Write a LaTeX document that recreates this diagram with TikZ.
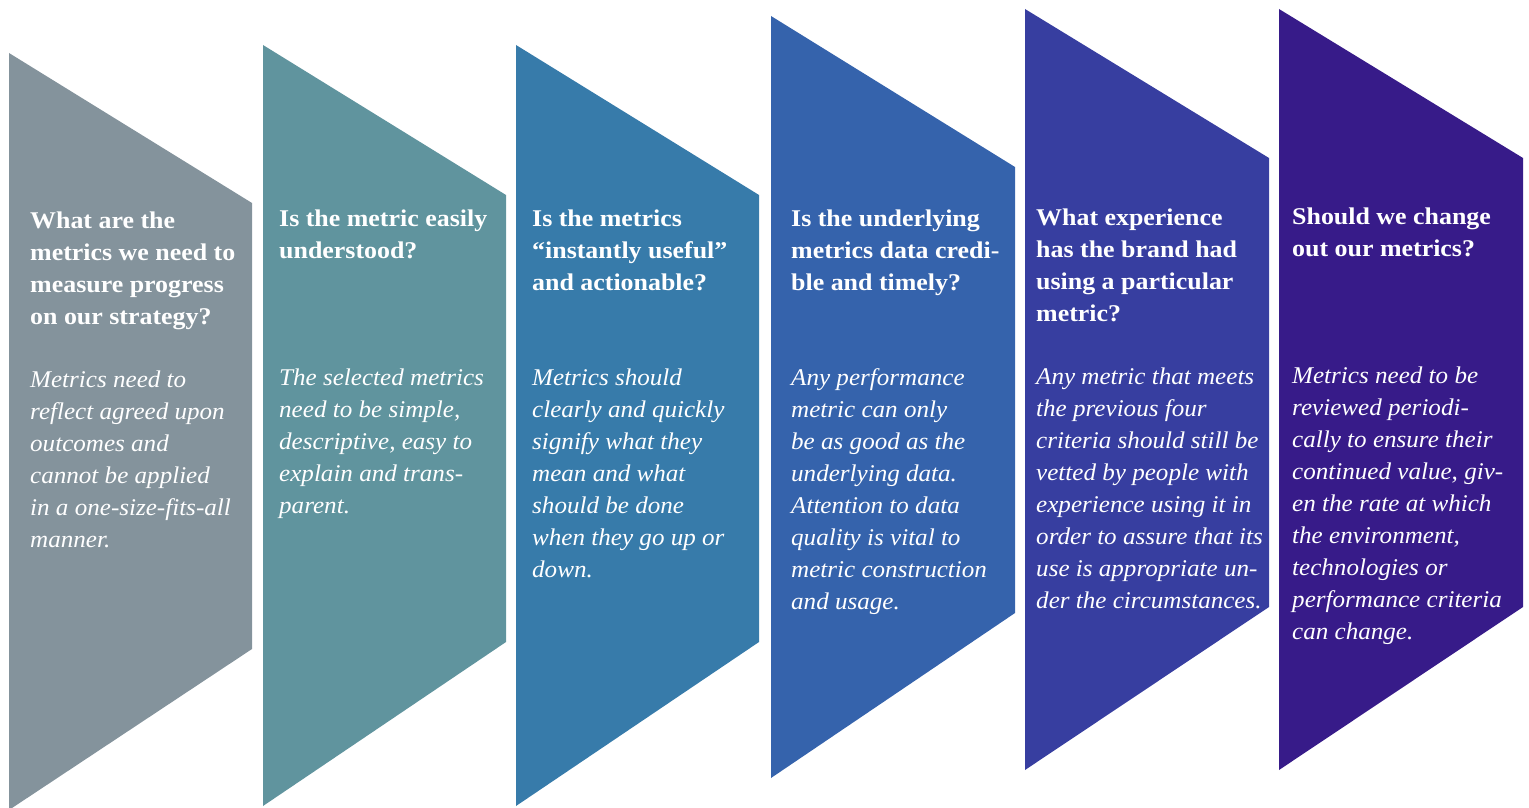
\documentclass[tikz,border=0pt]{standalone}
\usepackage{fontspec}
\setmainfont{Liberation Serif}[BoldFeatures={FakeStretch=1.08},ItalicFeatures={FakeStretch=1.045}]
\definecolor{cA}{HTML}{84939C}
\definecolor{cB}{HTML}{60949E}
\definecolor{cC}{HTML}{377BAA}
\definecolor{cD}{HTML}{3563AC}
\definecolor{cE}{HTML}{373EA0}
\definecolor{cF}{HTML}{371B89}
\tikzset{
  qtext/.style={anchor=base west, inner sep=0pt, text=white, font=\fontsize{24}{32}\selectfont\bfseries},
  atext/.style={anchor=base west, inner sep=0pt, text=white, font=\fontsize{24}{32}\selectfont\itshape}
}
\newcommand\lines[1]{\parbox[t]{250pt}{\raggedright #1}}
\begin{document}
\begin{tikzpicture}[x=1pt,y=-1pt]
\useasboundingbox (0,0) rectangle (1529,808);
% panels
\fill[cA] (9,53) -- (252,203) -- (252,649) -- (9,810) -- cycle;
\fill[cB] (263,45) -- (506,195) -- (506,642) -- (263,806) -- cycle;
\fill[cC] (516,45) -- (759,195) -- (759,642) -- (516,806) -- cycle;
\fill[cD] (771,16) -- (1015,167) -- (1015,613) -- (771,778) -- cycle;
\fill[cE] (1025,9) -- (1269,158) -- (1269,607) -- (1025,770) -- cycle;
\fill[cF] (1279,9) -- (1523,158) -- (1523,607) -- (1279,770) -- cycle;
% texts
\node[qtext] (q1) at (30,228) {\lines{What are the\\metrics we need to\\measure progress\\on our strategy?}};
\node[atext] (a1) at (30,387) {\lines{Metrics need to\\reflect agreed upon\\outcomes and\\cannot be applied\\in a one-size-fits-all\\manner.}};
\node[qtext] (q2) at (279,226) {\lines{Is the metric easily\\understood?}};
\node[atext] (a2) at (279,385) {\lines{The selected metrics\\need to be simple,\\descriptive, easy to\\explain and trans-\\parent.}};
\node[qtext] (q3) at (532,226) {\lines{Is the metrics\\“instantly useful”\\and actionable?}};
\node[atext] (a3) at (532,385) {\lines{Metrics should\\clearly and quickly\\signify what they\\mean and what\\should be done\\when they go up or\\down.}};
\node[qtext] (q4) at (791,226) {\lines{Is the underlying\\metrics data credi-\\ble and timely?}};
\node[atext] (a4) at (791,385) {\lines{Any performance\\metric can only\\be as good as the\\underlying data.\\Attention to data\\quality is vital to\\metric construction\\and usage.}};
\node[qtext] (q5) at (1036,225) {\lines{What experience\\has the brand had\\using a particular\\metric?}};
\node[atext] (a5) at (1036,384) {\lines{Any metric that meets\\the previous four\\criteria should still be\\vetted by people with\\experience using it in\\order to assure that its\\use is appropriate un-\\der the circumstances.}};
\node[qtext] (q6) at (1292,224) {\lines{Should we change\\out our metrics?}};
\node[atext] (a6) at (1292,383) {\lines{Metrics need to be\\reviewed periodi-\\cally to ensure their\\continued value, giv-\\en the rate at which\\the environment,\\technologies or\\performance criteria\\can change.}};
\end{tikzpicture}
\end{document}
